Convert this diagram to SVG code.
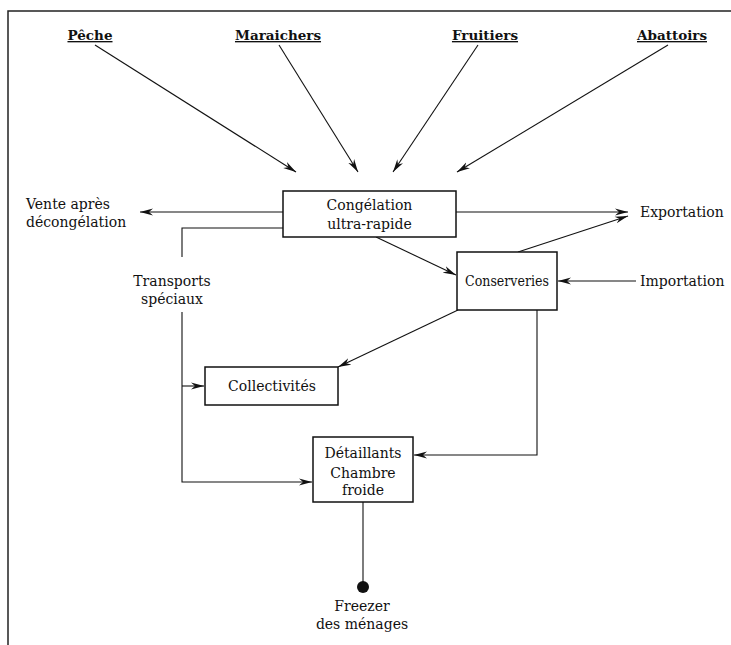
<svg xmlns="http://www.w3.org/2000/svg" width="731" height="645" viewBox="0 0 731 645">
<defs>
<marker id="ah" markerUnits="userSpaceOnUse" markerWidth="14" markerHeight="8" refX="13" refY="4" orient="auto">
<path d="M0,0.5 L13,4 L0,7.5 L4,4 Z" fill="#111"/>
</marker>
</defs>
<style>
text{font-family:"DejaVu Serif","Liberation Serif",serif;font-size:14px;fill:#111}
.src{font-weight:bold;font-size:13.5px;text-decoration:underline}
.box{fill:#fff;stroke:#111;stroke-width:1.5}
.ln{fill:none;stroke:#111;stroke-width:1.1}
.ar{fill:none;stroke:#111;stroke-width:1.1;marker-end:url(#ah)}
</style>
<rect width="731" height="645" fill="#fff"/>
<path d="M8,645 L8,11 L731,11" fill="none" stroke="#222" stroke-width="1.5"/>

<g id="peche">
<text class="src" x="90" y="40" text-anchor="middle">Pêche</text>
</g>
<g id="maraichers">
<text class="src" x="278" y="40" text-anchor="middle">Maraichers</text>
</g>
<g id="fruitiers">
<text class="src" x="485" y="40" text-anchor="middle">Fruitiers</text>
</g>
<g id="abattoirs">
<text class="src" x="672" y="40" text-anchor="middle">Abattoirs</text>
</g>

<g id="connectors">
<line class="ar" x1="95" y1="45" x2="296" y2="172"/>
<line class="ar" x1="279" y1="45" x2="358" y2="172"/>
<line class="ar" x1="478" y1="45" x2="393" y2="172"/>
<line class="ar" x1="668" y1="45" x2="457" y2="172"/>
<line class="ar" x1="283" y1="212" x2="140" y2="212"/>
<line class="ar" x1="456" y1="212" x2="628" y2="212"/>
<line class="ar" x1="518" y1="252" x2="628" y2="216"/>
<line class="ar" x1="376" y1="237" x2="456" y2="275"/>
<line class="ar" x1="636" y1="281" x2="558" y2="281"/>
<line class="ar" x1="458" y1="310" x2="338" y2="367"/>
<path class="ar" d="M537,310 L537,455 L414,455"/>
<path class="ln" d="M283,228 L182,228 L182,257"/>
<path class="ar" d="M182,312 L182,482 L312,482"/>
<line class="ar" x1="182" y1="386" x2="204" y2="386"/>
<line class="ln" x1="363" y1="502" x2="363" y2="587"/>
<circle cx="363" cy="587" r="6" fill="#111"/>
</g>

<g id="congelation">
<rect class="box" x="283" y="191" width="173" height="46"/>
<text x="369.5" y="210" text-anchor="middle">Congélation</text>
<text x="369.5" y="229" text-anchor="middle">ultra-rapide</text>
</g>
<g id="vente">
<text x="26" y="209">Vente après</text>
<text x="26" y="227">décongélation</text>
</g>
<g id="exportation">
<text x="640" y="217">Exportation</text>
</g>
<g id="importation">
<text x="640" y="286">Importation</text>
</g>
<g id="transports">
<text x="172" y="286" text-anchor="middle">Transports</text>
<text x="172" y="304" text-anchor="middle">spéciaux</text>
</g>
<g id="conserveries">
<rect class="box" x="457" y="252" width="100" height="58"/>
<text x="507" y="286" text-anchor="middle" textLength="84" lengthAdjust="spacingAndGlyphs">Conserveries</text>
</g>
<g id="collectivites">
<rect class="box" x="205" y="367" width="133" height="38"/>
<text x="272" y="391" text-anchor="middle">Collectivités</text>
</g>
<g id="detaillants">
<rect class="box" x="313" y="437" width="100" height="65"/>
<text x="363" y="458" text-anchor="middle">Détaillants</text>
<text x="363" y="478" text-anchor="middle">Chambre</text>
<text x="363" y="495" text-anchor="middle">froide</text>
</g>
<g id="freezer">
<text x="362" y="611" text-anchor="middle">Freezer</text>
<text x="362" y="629" text-anchor="middle">des ménages</text>
</g>
</svg>
